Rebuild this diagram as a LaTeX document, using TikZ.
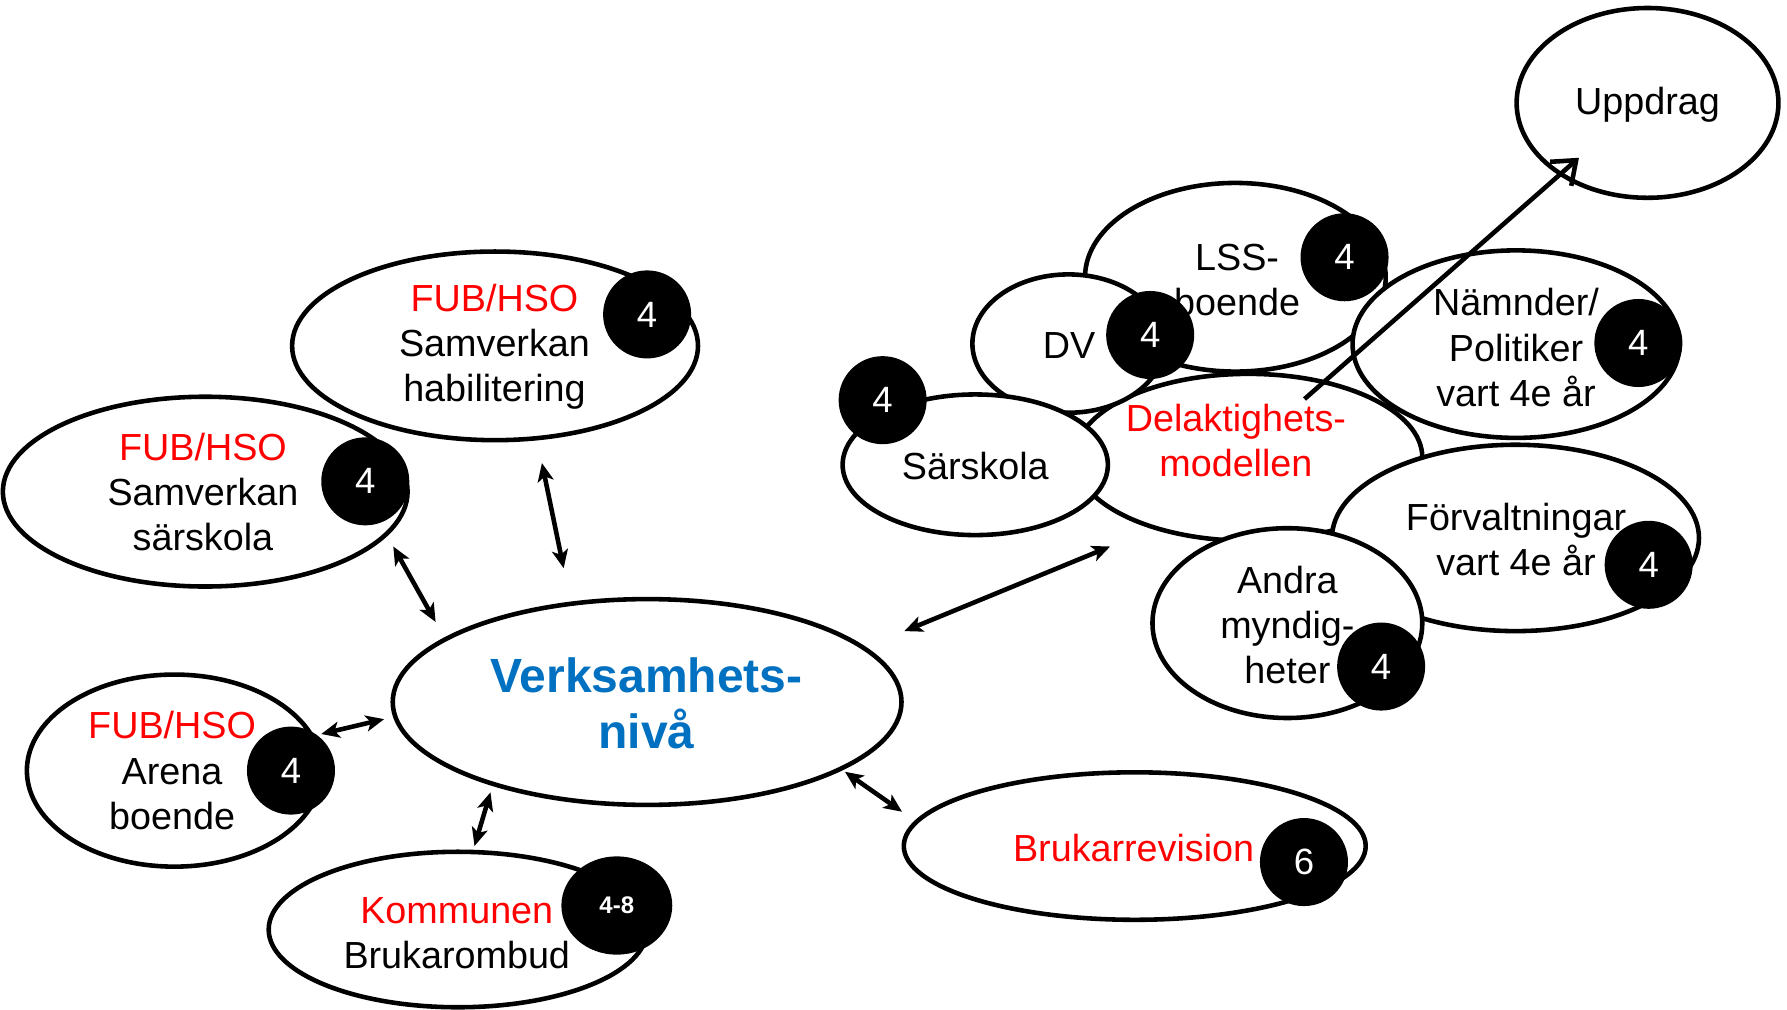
\documentclass[tikz,border=0pt]{standalone}
\usepackage{fontspec}
\setmainfont{Liberation Sans}
\usetikzlibrary{shapes.geometric,arrows.meta}
\definecolor{fubred}{RGB}{255,0,0}
\definecolor{verkblue}{RGB}{0,112,192}
\tikzset{
  oval/.style={ellipse, draw=black, line width=4pt, fill=white, inner sep=0pt},
  badge/.style={circle, fill=black, inner sep=0pt, minimum size=77pt, text=white,
    font=\fontsize{32}{38}\selectfont},
  lbl/.style={align=center, inner sep=0pt, font=\fontsize{33}{39.5}\selectfont},
  biarrow/.style={line width=4pt, {Stealth[length=16pt,width=14pt,inset=4pt]}-{Stealth[length=16pt,width=14pt,inset=4pt]}},
  onearrow/.style={line width=4pt, -{Straight Barb[length=18pt,width=28pt,line width=4pt]}}
}
\begin{document}
\begin{tikzpicture}[x=1pt,y=-1pt]
\useasboundingbox (0,0) rectangle (1563,883);

% ---------- right cluster ----------
\node[oval, minimum width=229pt, minimum height=166pt] (upp) at (1441,90) {};
\node[lbl] (tupp) at (1441,92) {Uppdrag};

\node[oval, minimum width=263pt, minimum height=165pt] (lss) at (1080.5,242.5) {};
\node[lbl] (tlss) at (1082,245) {LSS-\\boende};
\node[badge] (blss) at (1176,225) {4};

\node[oval, minimum width=304pt, minimum height=146pt] (del) at (1092,400) {};
\node[lbl, text=fubred] (tdel) at (1081,385) {Delaktighets-\\modellen};

\node[oval, minimum width=168pt, minimum height=121pt] (dv) at (934.5,300.5) {};
\node[lbl] (tdv) at (935,302) {DV};
\node[badge] (bdv) at (1006,293) {4};

\node[oval, minimum width=286pt, minimum height=164pt] (nam) at (1326,301) {};
\node[lbl] (tnam) at (1326,304) {Nämnder/\\Politiker\\vart 4e år};
\node[badge] (bnam) at (1433,300) {4};

\node[oval, minimum width=232pt, minimum height=123pt] (sar) at (853,406.5) {};
\node[lbl] (tsar) at (853,408) {Särskola};
\node[badge] (bsar) at (772,350) {4};

\node[oval, minimum width=321pt, minimum height=163pt] (forv) at (1325.5,470.5) {};
\node[lbl] (tforv) at (1326,472) {Förvaltningar\\vart 4e år};
\node[badge] (bforv) at (1442,494) {4};

\node[oval, minimum width=236pt, minimum height=166pt] (andra) at (1126,545) {};
\node[lbl] (tandra) at (1126,546.5) {Andra\\myndig-\\heter};
\node[badge] (bandra) at (1208,583) {4};

% ---------- left / centre ----------
\node[oval, minimum width=355pt, minimum height=165pt] (hab) at (433,302.5) {};
\node[lbl] (thab) at (432.5,303.5) {\textcolor{fubred}{FUB/HSO}\\Samverkan\\habilitering};
\node[badge] (bhab) at (566,275) {4};

\node[oval, minimum width=354pt, minimum height=166pt] (ssk) at (179.5,430) {};
\node[lbl] (tssk) at (177.5,430.5) {\textcolor{fubred}{FUB/HSO}\\Samverkan\\särskola};
\node[badge] (bssk) at (319.5,421) {4};

\node[oval, minimum width=258pt, minimum height=168pt] (are) at (152.5,674) {};
\node[lbl] (tare) at (150.5,674) {\textcolor{fubred}{FUB/HSO}\\Arena\\boende};
\node[badge] (bare) at (254.5,674) {4};

\node[oval, minimum width=331pt, minimum height=136pt] (kom) at (400.5,813) {};
\node[lbl] (tkom) at (399.5,816) {\textcolor{fubred}{Kommunen}\\Brukarombud};
\node[badge, ellipse, minimum width=97pt, minimum height=86pt,
  font=\bfseries\fontsize{21}{25}\selectfont] (bkom) at (539.5,792) {4-8};

\node[oval, minimum width=445pt, minimum height=180pt] (verk) at (566,614) {};
\node[lbl, text=verkblue, font=\bfseries\fontsize{42}{49}\selectfont] (tverk) at (565.5,615.5) {Verksamhets-\\nivå};

\node[oval, minimum width=404pt, minimum height=129pt] (bru) at (992.5,740) {};
\node[lbl, text=fubred] (tbru) at (991.5,742) {Brukarrevision};
\node[badge] (bbru) at (1140.5,754) {6};

% ---------- connectors ----------
\coordinate (a1s) at (474,405);  \coordinate (a1e) at (493,497);
\coordinate (a2s) at (344,478);  \coordinate (a2e) at (381,544);
\coordinate (a3s) at (281,642);  \coordinate (a3e) at (336,629);
\coordinate (a4s) at (429,693);  \coordinate (a4e) at (415,740);
\coordinate (a5s) at (739,675);  \coordinate (a5e) at (789,710);
\coordinate (a6s) at (791,552);  \coordinate (a6e) at (971,478);
\coordinate (a7s) at (1141,349); \coordinate (a7e) at (1381,138);

\draw[biarrow] (a1s) -- (a1e);
\draw[biarrow] (a2s) -- (a2e);
\draw[biarrow] (a3s) -- (a3e);
\draw[biarrow] (a4s) -- (a4e);
\draw[biarrow] (a5s) -- (a5e);
\draw[biarrow] (a6s) -- (a6e);
\draw[onearrow] (a7s) -- (a7e);
\end{tikzpicture}
\end{document}
